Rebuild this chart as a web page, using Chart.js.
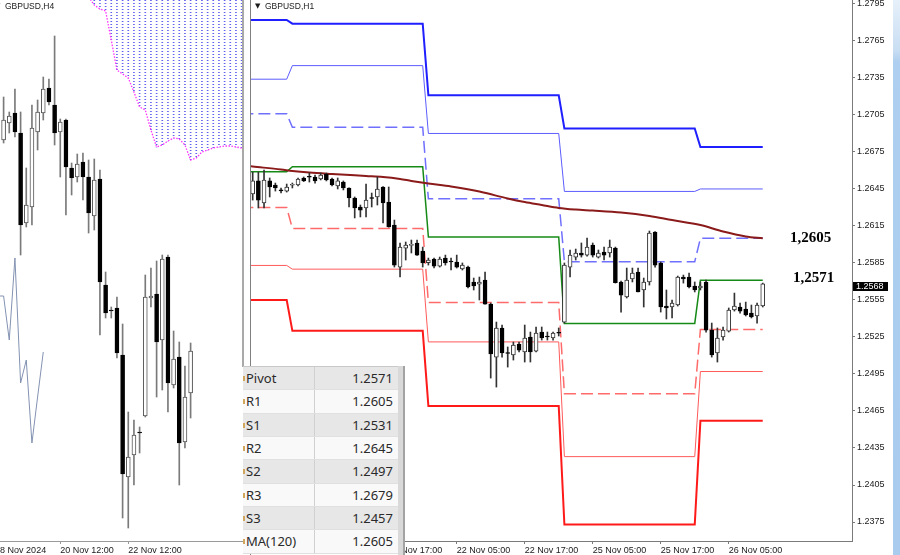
<!DOCTYPE html>
<html>
<head>
<meta charset="utf-8">
<title>GBPUSD H4 / H1</title>
<script src="https://cdn.jsdelivr.net/npm/chart.js@4/dist/chart.umd.min.js"></script>
<style>
 html,body{margin:0;padding:0;background:#fff;}
 body{width:900px;height:555px;overflow:hidden;position:relative;}
 .wrap{position:absolute;top:0;height:555px;}
 #lw{left:0;width:243px;}
 #rw{left:250px;width:643px;}
 canvas{display:block;}
 #frameL{position:absolute;left:242px;top:0;width:2px;height:367px;background:#a9a9a9;}
 #frameR{position:absolute;left:250px;top:0;width:1px;height:555px;background:#808080;}
 #strip{position:absolute;left:893px;top:0;width:7px;height:555px;background:linear-gradient(to bottom,#e6f0fa 0,#c9def3 50px,#aecfef 62px,#a8cbee 100%);}
 .ttl{position:absolute;top:0;height:12px;line-height:12px;font-family:"Liberation Sans",Arial,sans-serif;font-size:8.5px;color:#1a1a1a;white-space:nowrap;}
 .tri{position:absolute;top:0;height:12px;line-height:12px;font-family:"DejaVu Sans",sans-serif;font-size:7px;color:#1a1a1a;}
 .lvl{position:absolute;font-family:"Liberation Serif","Times New Roman",serif;font-weight:bold;font-size:15px;line-height:16px;height:16px;color:#000;white-space:nowrap;}
 #cur{position:absolute;left:853px;width:35px;height:9px;line-height:9px;background:#000;color:#fff;font-family:"Liberation Sans",Arial,sans-serif;font-size:9px;padding-left:3px;box-sizing:border-box;}
 #tbl{position:absolute;left:243px;top:366px;width:155px;height:189px;overflow:hidden;border-top:1px solid #c9c9c9;box-sizing:border-box;}
 #tblEdge{position:absolute;left:398px;top:366px;width:7px;height:189px;background:#d9d9d9;border-right:2px solid #a3a3a3;box-sizing:border-box;}
 .row{position:relative;height:23.35px;background:#f9f9f9;box-sizing:border-box;border-bottom:1px solid #e0e0e0;font-family:"Noto Sans","Open Sans",sans-serif;font-size:13px;color:#2a2a2a;}
 .row.g{background:#e7e7e7;}
 .c1{position:absolute;left:0;top:0;width:72px;height:100%;line-height:23px;padding-left:3px;box-sizing:border-box;border-right:1px solid #d0d0d0;white-space:nowrap;}
 .c2{position:absolute;left:72px;top:0;width:83px;height:100%;line-height:23px;padding-right:5px;box-sizing:border-box;text-align:right;}
 .mk{position:absolute;left:0;top:9px;width:2px;height:5px;background:#d2a65c;}
</style>
</head>
<body>
<div class="wrap" id="lw"><canvas id="lc" width="243" height="555" style="width:243px;height:555px"></canvas></div>
<div class="wrap" id="rw"><canvas id="rc" width="643" height="555" style="width:643px;height:555px"></canvas></div>
<div id="frameL"></div>
<div id="frameR"></div>
<div id="strip"></div>
<div class="tri" style="left:-5px">▼</div>
<div class="ttl" style="left:5px">GBPUSD,H4</div>
<div class="tri" style="left:255px">▼</div>
<div class="ttl" style="left:265px">GBPUSD,H1</div>
<div class="lvl" id="lblA" style="left:790px;top:230px"></div>
<div class="lvl" id="lblB" style="left:793px;top:269px"></div>
<div id="cur" style="top:282px"></div>
<div id="tbl"></div>
<div id="tblEdge"></div>

<script>
// ================= H4 panel (left) =================
const h4Open  = [1.2680,1.26885,1.26935,1.26835,1.26385,1.26465,1.2684,1.26935,1.2706,1.26975,
                 1.2684,1.2690,1.2666,1.26615,1.2669,1.26615,1.2642,1.26605,1.26075,1.2595,
                 1.2596,1.25725,1.25115,1.25225,1.2534,1.2542,1.2601,1.2603,1.2580,1.26215,
                 1.25575,1.25715,1.2529,1.25535];
const h4High  = [1.27015,1.2694,1.27055,1.2694,1.2666,1.26975,1.2700,1.27115,1.27105,1.2732,
                 1.26905,1.26905,1.26685,1.2673,1.26735,1.2670,1.26705,1.2665,1.2614,1.25965,
                 1.26015,1.2588,1.2544,1.2540,1.25365,1.26125,1.2616,1.26195,1.26225,1.26225,
                 1.25845,1.2579,1.2567,1.25785];
const h4Low   = [1.26785,1.26835,1.26815,1.26225,1.26365,1.26375,1.2675,1.2690,1.26975,1.26775,
                 1.26615,1.26425,1.26525,1.2659,1.2650,1.26335,1.2635,1.25825,1.2591,1.2591,
                 1.2571,1.2491,1.2486,1.25075,1.25235,1.25415,1.25965,1.25515,1.2555,1.2544,
                 1.2556,1.25075,1.2526,1.2541];
const h4Close = [1.2690,1.2692,1.2684,1.26375,1.26475,1.2686,1.2694,1.27055,1.2699,1.26835,
                 1.2689,1.26665,1.2661,1.2668,1.26615,1.26435,1.2660,1.2609,1.25935,1.25945,
                 1.25735,1.2513,1.25215,1.25325,1.25335,1.26015,1.2602,1.2579,1.26205,1.25585,
                 1.25705,1.25285,1.25515,1.25745];
const h4TickIdx    = [-1.5, 10, 22];
const h4TickLabels = ['18 Nov 2024', '20 Nov 12:00', '22 Nov 12:00'];
const cloudIdx  = [15,16,17,18,19,20,21,22,23,24,25,26,27,28,29,30,31,32,33,34,35,36,37,38,39,40,41,42];
const cloudLow  = [1.27515,1.27475,1.27455,1.27445,1.2730,1.2715,1.2713,1.2711,1.2704,1.26965,
                   1.2695,1.2685,1.26765,1.26775,1.26795,1.2681,1.26805,1.26775,1.2670,1.2671,
                   1.2674,1.2675,1.2676,1.26765,1.2677,1.2677,1.26765,1.2676];
const cloudHigh = [1.2795,1.2795,1.2795,1.2794,1.2793,1.2792,1.2792,1.2791,1.2790,1.2790,
                   1.2789,1.2788,1.2788,1.2787,1.2787,1.2786,1.2786,1.2786,1.2785,1.2785,
                   1.2785,1.2784,1.2784,1.2784,1.2783,1.2783,1.2783,1.2783];
const chikouIdx = [-1,0,1,2,3,4,5,6,7];
const chikouVal = [1.2602,1.2602,1.2580,1.2621,1.25585,1.2570,1.25285,1.25515,1.2574];

// ================= H1 panel (right) =================
const h1Open = [
 1.26409,1.26515,1.26336,1.26515,1.26482,1.26440,1.26433,1.26480,1.26482,1.26539,
 1.26547,1.26547,1.26531,1.26571,1.26531,1.26474,1.26506,1.26458,1.26377,1.26304,
 1.26296,1.26377,1.26385,1.26466,1.26344,1.26158,1.25817,1.25971,1.25993,1.26012,
 1.25947,1.25852,1.25882,1.25825,1.25890,1.25862,1.25858,1.25801,1.25817,1.25696,
 1.25679,1.25712,1.25517,1.25087,1.25323,1.25120,1.25104,1.25193,1.25128,1.25250,
 1.25136,1.25290,1.25254,1.25242,1.25282,1.25371,1.25817,1.25898,1.25931,1.25914,
 1.25996,1.25898,1.25939,1.25931,1.25971,1.25696,1.25574,1.25720,1.25777,1.25631,
 1.25696,1.26101,1.25850,1.25501,1.25493,1.25509,1.25736,1.25736,1.25663,1.25647,
 1.25696,1.25306,1.25120,1.25250,1.25298,1.25469,1.25493,1.25477,1.25444,1.25420,
 1.25501];
const h1High = [
 1.26587,1.26587,1.26604,1.26539,1.26498,1.26458,1.26490,1.26498,1.26539,1.26547,
 1.26579,1.26563,1.26579,1.26579,1.26539,1.26539,1.26515,1.26460,1.26385,1.26320,
 1.26490,1.26417,1.26547,1.26470,1.26466,1.26198,1.26012,1.26020,1.26036,1.26036,
 1.25979,1.25890,1.25890,1.25898,1.25914,1.25890,1.25914,1.25850,1.25825,1.25728,
 1.25736,1.25777,1.25525,1.25371,1.25347,1.25169,1.25209,1.25209,1.25347,1.25290,
 1.25331,1.25331,1.25290,1.25290,1.25323,1.25850,1.25955,1.25963,1.26012,1.26052,
 1.26012,1.25955,1.25979,1.26036,1.25979,1.25704,1.25809,1.25809,1.25809,1.25728,
 1.26109,1.26105,1.25858,1.25631,1.25550,1.25744,1.25752,1.25769,1.25696,1.25696,
 1.25712,1.25363,1.25323,1.25331,1.25485,1.25606,1.25525,1.25533,1.25509,1.25525,
 1.25687];
const h1Low = [
 1.26360,1.26296,1.26296,1.26385,1.26433,1.26417,1.26425,1.26458,1.26474,1.26510,
 1.26506,1.26498,1.26523,1.26515,1.26474,1.26450,1.26442,1.26304,1.26215,1.26223,
 1.26223,1.26304,1.26320,1.26174,1.26140,1.25817,1.25736,1.25874,1.25931,1.25912,
 1.25817,1.25833,1.25809,1.25817,1.25833,1.25793,1.25809,1.25793,1.25647,1.25631,
 1.25550,1.25517,1.24917,1.24844,1.25087,1.25006,1.25063,1.25128,1.25047,1.25047,
 1.25128,1.25225,1.25225,1.25225,1.25258,1.25363,1.25736,1.25874,1.25898,1.25906,
 1.25898,1.25890,1.25874,1.25898,1.25687,1.25452,1.25566,1.25696,1.25615,1.25493,
 1.25671,1.25817,1.25452,1.25396,1.25404,1.25501,1.25687,1.25647,1.25615,1.25631,
 1.25290,1.25087,1.25047,1.25225,1.25290,1.25460,1.25444,1.25420,1.25404,1.25363,
 1.25493];
const h1Close = [
 1.26515,1.26360,1.26523,1.26466,1.26458,1.26435,1.26466,1.26482,1.26531,1.26515,
 1.26545,1.26515,1.26563,1.26523,1.26482,1.26515,1.26458,1.26377,1.26296,1.26279,
 1.26360,1.26373,1.26450,1.26336,1.26142,1.25833,1.25979,1.25996,1.25996,1.25914,
 1.25850,1.25874,1.25825,1.25882,1.25850,1.25858,1.25817,1.25833,1.25655,1.25663,
 1.25696,1.25517,1.25112,1.25323,1.25120,1.25116,1.25185,1.25144,1.25242,1.25128,
 1.25282,1.25242,1.25250,1.25282,1.25280,1.25833,1.25914,1.25931,1.25914,1.25979,
 1.25914,1.25931,1.25914,1.25979,1.25690,1.25590,1.25712,1.25769,1.25615,1.25696,
 1.26093,1.25833,1.25493,1.25485,1.25525,1.25736,1.25720,1.25655,1.25631,1.25663,
 1.25306,1.25104,1.25242,1.25306,1.25469,1.25501,1.25460,1.25428,1.25412,1.25509,
 1.25680];

// daily pivot levels (20, 21, 22, 25, 26 Nov) and the bar index range of each day
const dayStart = [-17, 7, 31, 55, 79];
const dayEnd   = [6, 30, 54, 78, 90];
const pivR3 = [1.2782, 1.2779, 1.2721, 1.2694, 1.2679];
const pivR2 = [1.2734, 1.2745, 1.2690, 1.2643, 1.2645];
const pivR1 = [1.2706, 1.2695, 1.2637, 1.2586, 1.2605];
const pivP  = [1.2659, 1.2663, 1.2606, 1.2536, 1.2571];
const pivS1 = [1.2630, 1.2613, 1.2553, 1.2479, 1.2531];
const pivS2 = [1.2583, 1.2580, 1.2521, 1.2428, 1.2497];
const pivS3 = [1.2555, 1.2530, 1.2469, 1.2373, 1.2457];

const maIdx = [-1,0,5,7,10,14,20,23,26,28,31,35,40,45,48,51,54,57,60,65,70,74,79,83,87,90];
const maVal = [1.26637,1.26632,1.26608,1.26596,1.26583,1.26571,1.26555,1.26547,1.26531,1.26515,
               1.26494,1.26470,1.26429,1.26373,1.26344,1.26320,1.26296,1.26283,1.26275,1.26259,
               1.26231,1.26198,1.26158,1.26105,1.26065,1.26050];

const h1TickIdx    = [24, 36, 48, 60, 72, 84];
const h1TickLabels = ['21 Nov 17:00','22 Nov 05:00','22 Nov 17:00','25 Nov 05:00','25 Nov 17:00','26 Nov 05:00'];
const yTickLabels  = ['1.2795','1.2765','1.2735','1.2705','1.2675','1.2645','1.2615','1.2585',
                      '1.2555','1.2525','1.2495','1.2465','1.2435','1.2405','1.2375'];

const tableLabels = ['Pivot','R1','S1','R2','S2','R3','S3','MA(120)'];

// ================= build =================
Chart.defaults.font.family = '"Liberation Sans", Arial, sans-serif';
Chart.defaults.font.size = 9;
Chart.defaults.color = '#1a1a1a';

function candleDatasets(O, H, L, C, opt) {
  const body = [], wick = [], fill = [], edge = [];
  for (let i = 0; i < O.length; i++) {
    wick.push({x: i, y: [L[i], H[i]]});
    body.push({x: i, y: [Math.min(O[i], C[i]), Math.max(O[i], C[i])]});
    const up = C[i] >= O[i];
    fill.push(up ? '#ffffff' : '#000000');
    edge.push(up ? opt.edge : '#000000');
  }
  return [
    {type: 'bar', data: body, backgroundColor: fill, borderColor: edge, borderWidth: 1,
     borderSkipped: false, barThickness: opt.body, minBarLength: 1, grouped: false, order: 0},
    {type: 'bar', data: wick, backgroundColor: opt.wick, borderWidth: 0,
     barThickness: 1, grouped: false, order: 1}
  ];
}

function stepLine(levels, color, width, dash, order) {
  const pts = [];
  for (let d = 0; d < levels.length; d++) {
    pts.push({x: dayStart[d], y: levels[d]}, {x: dayEnd[d], y: levels[d]});
  }
  return {type: 'line', data: pts, borderColor: color, borderWidth: width, borderDash: dash || [],
          pointRadius: 0, tension: 0, fill: false, order: order || 4};
}

function xAxis(min, max, tickIdx, tickLabels, lineColor) {
  return {
    type: 'linear', min: min, max: max, offset: false, bounds: 'data',
    grid: {display: true, offset: false, drawOnChartArea: false, drawTicks: true, tickLength: 3, color: lineColor, lineWidth: 1},
    border: {display: true, color: lineColor, width: 1},
    ticks: {autoSkip: false, maxRotation: 0, minRotation: 0, align: 'start', padding: 1,
            color: '#1a1a1a', font: {size: 9}, callback: (v, i) => tickLabels[i]},
    afterBuildTicks: s => { s.ticks = tickIdx.map(v => ({value: v})); },
    afterFit: s => { s.height = 14; s.paddingLeft = 0; s.paddingRight = 0; }
  };
}

// ---- left chart ----
const pc = document.createElement('canvas');
pc.width = 1; pc.height = 3;
const pg = pc.getContext('2d');
pg.fillStyle = '#5f5ff0';
pg.fillRect(0, 0, 1, 1);
const lctx = document.getElementById('lc').getContext('2d');
const dotPattern = lctx.createPattern(pc, 'repeat');

new Chart(lctx, {
  type: 'line',
  data: {datasets: [
    ...candleDatasets(h4Open, h4High, h4Low, h4Close, {edge: '#555555', wick: '#7a7a7a', body: 4}),
    {type: 'line', data: chikouIdx.map((x, i) => ({x: x, y: chikouVal[i]})), borderColor: '#8392b2',
     borderWidth: 1, pointRadius: 0, tension: 0, order: 2},
    {type: 'line', data: cloudIdx.map((x, i) => ({x: x, y: cloudLow[i]})), borderColor: '#ff33ff',
     borderWidth: 1.3, borderDash: [1.5, 1.5], pointRadius: 0, tension: 0, order: 3},
    {type: 'bar', data: cloudIdx.map((x, i) => ({x: x, y: [cloudLow[i], cloudHigh[i]]})),
     backgroundColor: dotPattern, borderWidth: 0, barThickness: 1, grouped: false, order: 5}
  ]},
  options: {
    responsive: false, animation: false, events: [], devicePixelRatio: 1,
    layout: {padding: 0},
    plugins: {legend: {display: false}, tooltip: {enabled: false}},
    scales: {
      x: xAxis(-0.635, 42.245, h4TickIdx, h4TickLabels, '#9a9a9a'),
      y: {type: 'linear', display: false, min: 1.24795, max: 1.2750, bounds: 'data', beginAtZero: false}
    }
  }
});

// ---- right chart ----
const lblA = document.getElementById('lblA');
const lblB = document.getElementById('lblB');
const cur  = document.getElementById('cur');
const last = pivP.length - 1;
lblA.textContent = pivR1[last].toFixed(4).replace('.', ',');
lblB.textContent = pivP[last].toFixed(4).replace('.', ',');
cur.textContent  = h1Close[h1Close.length - 1].toFixed(4);

const placeLabels = {
  id: 'placeLabels',
  afterDraw(chart) {
    const ys = chart.scales.y;
    lblA.style.top = (ys.getPixelForValue(pivR1[last]) - 9) + 'px';
    lblB.style.top = (ys.getPixelForValue(pivP[last]) - 11) + 'px';
    cur.style.top  = (ys.getPixelForValue(h1Close[h1Close.length - 1]) - 2) + 'px';
  }
};

new Chart(document.getElementById('rc'), {
  type: 'line',
  data: {datasets: [
    ...candleDatasets(h1Open, h1High, h1Low, h1Close, {edge: '#333333', wick: '#333333', body: 4}),
    {type: 'line', data: maIdx.map((x, i) => ({x: x, y: maVal[i]})), borderColor: '#8b1a1a',
     borderWidth: 2, pointRadius: 0, tension: 0.4, cubicInterpolationMode: 'monotone', order: 2},
    stepLine(pivP,  '#168a16', 1.5, [], 3),
    stepLine(pivR3, '#1f1fff', 2, []),
    stepLine(pivR2, '#5c5cff', 1, []),
    stepLine(pivR1, '#7070ff', 1.5, [12, 5]),
    stepLine(pivS1, '#ff6b6b', 1.5, [12, 5]),
    stepLine(pivS2, '#ff5a5a', 1, []),
    stepLine(pivS3, '#ff1a1a', 2, [])
  ]},
  options: {
    responsive: false, animation: false, events: [], devicePixelRatio: 1,
    layout: {padding: {left: 1, right: 0, top: 0, bottom: 0}},
    plugins: {legend: {display: false}, tooltip: {enabled: false}},
    scales: {
      x: xAxis(-0.3, 105.75, h1TickIdx, h1TickLabels, '#7a7a7a'),
      y: {
        type: 'linear', position: 'right', min: 1.23596, max: 1.27982, bounds: 'data', beginAtZero: false,
        grid: {display: true, drawOnChartArea: false, drawTicks: true, tickLength: 3, color: '#7a7a7a'},
        border: {display: true, color: '#7a7a7a', width: 1},
        ticks: {autoSkip: false, padding: 2, color: '#1a1a1a', font: {size: 9}, callback: (v, i) => yTickLabels[i]},
        afterBuildTicks: s => { s.ticks = yTickLabels.map(t => ({value: Number(t)})); },
        afterFit: s => { s.width = 41; s.paddingTop = 0; s.paddingBottom = 0; }
      }
    }
  },
  plugins: [placeLabels]
});

// ---- pivot table ----
const tableValues = [pivP[last], pivR1[last], pivS1[last], pivR2[last], pivS2[last], pivR3[last], pivS3[last], maVal[maVal.length - 1]];
const tbl = document.getElementById('tbl');
tableLabels.forEach((lab, k) => {
  const row = document.createElement('div');
  row.className = 'row' + (k % 2 === 0 ? ' g' : '');
  const c1 = document.createElement('div'); c1.className = 'c1';
  const mk = document.createElement('div'); mk.className = 'mk';
  c1.appendChild(mk);
  c1.appendChild(document.createTextNode(lab));
  const c2 = document.createElement('div'); c2.className = 'c2';
  c2.textContent = tableValues[k].toFixed(4);
  row.appendChild(c1); row.appendChild(c2);
  tbl.appendChild(row);
});
</script>
</body>
</html>
